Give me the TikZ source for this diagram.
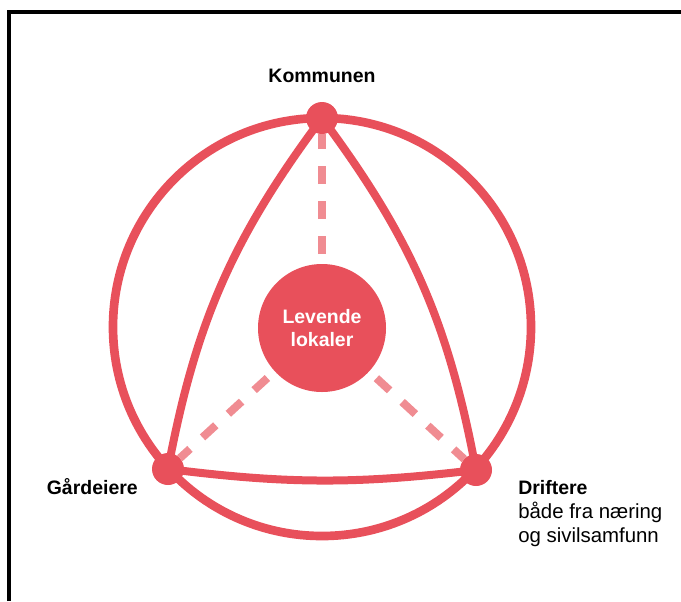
\documentclass[tikz,border=0pt]{standalone}
\usepackage{fontspec}
\setmainfont{Liberation Sans}
\usetikzlibrary{positioning}
\definecolor{lokalred}{HTML}{E8505B}
\definecolor{lokalpink}{HTML}{F08C92}
\tikzset{
  ring/.style={lokalred, line width=6pt},
  actor/.style={circle, fill=lokalred, minimum size=24pt, inner sep=0pt, outer sep=0pt},
  hub/.style={circle, fill=lokalred, minimum size=96pt, inner sep=0pt, outer sep=0pt, text=white, align=center, font=\bfseries\fontsize{14.6pt}{17.25pt}\selectfont},
  dashlink/.style={lokalpink, line width=6pt, dash pattern=on 13.5pt off 12.75pt, dash phase=18.75pt},
  tag/.style={inner sep=0pt, font=\fontsize{14.6pt}{18pt}\selectfont}
}
\begin{document}
\begin{tikzpicture}[x=0.75pt,y=0.75pt]
\useasboundingbox (0,0) rectangle (681,-601);
\draw[line width=3pt] (9,-601) -- (9,-12) -- (681,-12);
\node[circle, draw=lokalred, line width=6.5pt, minimum size=313.5pt, inner sep=0pt] (rim) at (322,-327) {};
\node[actor] (kom) at (322,-118) {};
\node[actor] (gard) at (168,-469) {};
\node[actor] (drift) at (476,-470) {};
\node[hub] (hub) at (322,-328) {Levende\\lokaler};
\draw[ring] (kom.center) to[bend right=13] (gard.center);
\draw[ring] (kom.center) to[bend left=13] (drift.center);
\draw[ring] (gard.center) to[bend right=7] (drift.center);
\draw[dashlink] (hub) -- (kom);
\draw[dashlink] (hub) -- (gard);
\draw[dashlink] (hub) -- (drift);
\node[tag, anchor=base] (komname) at (322,-82) {\bfseries Kommunen};
\node[tag, anchor=base east] (gardname) at (138,-494) {\bfseries Gårdeiere};
\node[tag, anchor=north west, align=left] (driftname) at (518,-480) {\bfseries Driftere\\\fontsize{15.3pt}{18pt}\selectfont både fra næring\\\fontsize{15.3pt}{18pt}\selectfont og sivilsamfunn};
\end{tikzpicture}
\end{document}
